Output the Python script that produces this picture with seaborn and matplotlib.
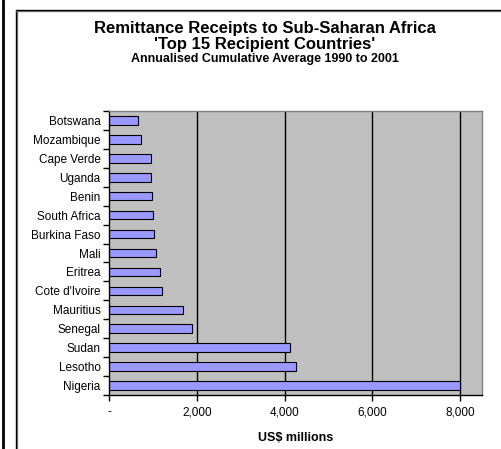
import matplotlib
matplotlib.use("Agg")
import matplotlib.pyplot as plt
import seaborn as sns
import pandas as pd
from matplotlib.lines import Line2D
from matplotlib.ticker import FixedLocator, FuncFormatter

countries = ["Botswana", "Mozambique", "Cape Verde", "Uganda", "Benin",
             "South Africa", "Burkina Faso", "Mali", "Eritrea", "Cote d'Ivoire",
             "Mauritius", "Senegal", "Sudan", "Lesotho", "Nigeria"]
values = [650, 727, 953, 950, 983, 1006, 1028, 1060, 1158, 1210,
          1687, 1891, 4131, 4252, 8006]
x_ticks = [0, 2000, 4000, 6000, 8000]

sns.set_style("white")
plt.rcParams['font.family'] = ['Liberation Sans', 'DejaVu Sans']
plt.rcParams['text.color'] = 'black'
plt.rcParams['xtick.color'] = 'black'
plt.rcParams['ytick.color'] = 'black'
plt.rcParams['axes.labelcolor'] = 'black'

df = pd.DataFrame({"country": countries, "value": values})

fig = plt.figure(figsize=(5.02, 4.49), dpi=100)
W, H = 502, 449
ax = fig.add_axes([109 / W, 1 - 395 / H, (482 - 109) / W, (395 - 111) / H])

sns.barplot(data=df, y="country", x="value", orient="h", ax=ax,
            color="#9999FF", edgecolor="black", linewidth=0.8, width=0.45,
            saturation=1)

ax.set_facecolor("#C0C0C0")
ax.set_xlim(0, 8500)
ax.set_ylim(len(countries) - 0.5, -0.5)
ax.xaxis.set_major_locator(FixedLocator(x_ticks))
ax.xaxis.set_major_formatter(FuncFormatter(lambda v, p: "-" if v == 0 else f"{int(v):,}"))
for xv in x_ticks[1:]:
    ax.axvline(xv, color="black", linewidth=1, zorder=0.5)

for s in ["top", "right"]:
    ax.spines[s].set_color("#808080")
    ax.spines[s].set_linewidth(1)
for s in ["left", "bottom"]:
    ax.spines[s].set_color("black")
    ax.spines[s].set_linewidth(1)

ax.tick_params(axis="x", which="major", length=4, width=1, color="black",
               direction="out", labelsize=8.5, pad=4, bottom=True)
ax.tick_params(axis="y", which="major", length=0, labelsize=8.5, pad=6, left=False)
ax.yaxis.set_minor_locator(FixedLocator([i - 0.5 for i in range(len(countries) + 1)]))
ax.tick_params(axis="y", which="minor", length=4, width=1, color="black",
               direction="out", left=True)
ax.set_ylabel("")
ax.set_xlabel("US$ millions", fontsize=9, fontweight="bold", labelpad=10)

cx = 265 / W
fig.text(cx, 1 - 28 / H, "Remittance Receipts to Sub-Saharan Africa",
         ha="center", va="center", fontsize=12, fontweight="bold")
fig.text(cx, 1 - 44 / H, "'Top 15 Recipient Countries'",
         ha="center", va="center", fontsize=12, fontweight="bold")
fig.text(cx, 1 - 59 / H, "Annualised Cumulative Average 1990 to 2001",
         ha="center", va="center", fontsize=9, fontweight="bold")

# frames
fig.add_artist(Line2D([3 / W, 3 / W], [0, 1], transform=fig.transFigure,
                      color="black", linewidth=2))
fig.add_artist(Line2D([17 / W, 17 / W], [0, 1 - 10 / H], transform=fig.transFigure,
                      color="#808080", linewidth=1))
fig.add_artist(Line2D([16 / W, 16 / W], [0, 1 - 10 / H], transform=fig.transFigure,
                      color="black", linewidth=1))
fig.add_artist(Line2D([16 / W, 1], [1 - 11 / H, 1 - 11 / H], transform=fig.transFigure,
                      color="#808080", linewidth=1))
fig.add_artist(Line2D([16 / W, 1], [1 - 10 / H, 1 - 10 / H], transform=fig.transFigure,
                      color="black", linewidth=1))

fig.savefig("out.png", dpi=100, facecolor="white")
